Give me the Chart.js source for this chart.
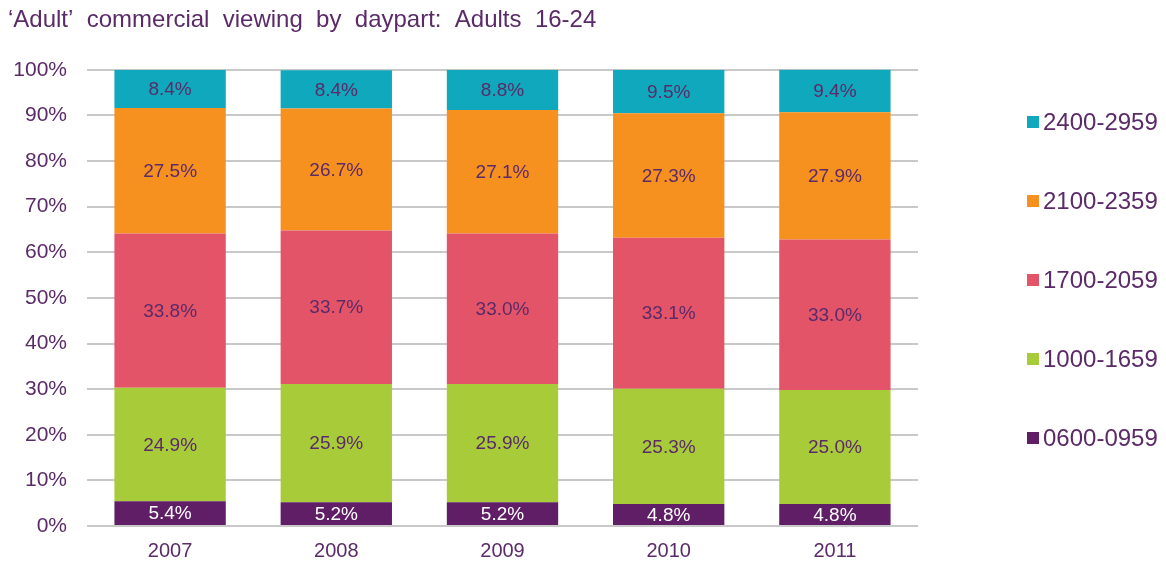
<!DOCTYPE html>
<html>
<head>
<meta charset="utf-8">
<script src="https://cdn.jsdelivr.net/npm/chart.js@4"></script>
<style>
  html, body { margin: 0; padding: 0; background: #ffffff; }
  #wrap { width: 1166px; height: 561px; position: relative; }
</style>
</head>
<body>
<div id="wrap"><canvas id="daypartChart"></canvas></div>
<script>
// Chart data
const years = ['2007', '2008', '2009', '2010', '2011'];
const dayparts = ['0600-0959', '1000-1659', '1700-2059', '2100-2359', '2400-2959'];
const share0600 = [5.4, 5.2, 5.2, 4.8, 4.8];
const share1000 = [24.9, 25.9, 25.9, 25.3, 25.0];
const share1700 = [33.8, 33.7, 33.0, 33.1, 33.0];
const share2100 = [27.5, 26.7, 27.1, 27.3, 27.9];
const share2400 = [8.4, 8.4, 8.8, 9.5, 9.4];
const yTicks = [0, 10, 20, 30, 40, 50, 60, 70, 80, 90, 100];

const textPurple = '#5b2a68';
const fontFamily = 'Arial, "Liberation Sans", sans-serif';

const seriesValues = [share0600, share1000, share1700, share2100, share2400];
const seriesColours = ['#5f1e66', '#a8cb3a', '#e45468', '#f6911f', '#10a8bd'];

// ===============================
// PLUGINS
// ===============================
// Value labels in the middle of each segment
const segmentLabels = {
  id: 'segmentLabels',
  afterDatasetsDraw(chart) {
    const ctx = chart.ctx;
    ctx.save();
    ctx.font = '19px ' + fontFamily;
    ctx.textAlign = 'center';
    ctx.textBaseline = 'middle';
    chart.data.datasets.forEach((ds, i) => {
      const meta = chart.getDatasetMeta(i);
      meta.data.forEach((bar, j) => {
        const mid = (bar.y + bar.base) / 2;
        ctx.fillStyle = i === 0 ? '#ffffff' : textPurple;
        ctx.fillText(ds.data[j].toFixed(1) + '%', bar.x, mid + 1);
      });
    });
    ctx.restore();
  }
};

// Legend on the right, top entry is the last series
const sideLegend = {
  id: 'sideLegend',
  afterDraw(chart) {
    const ctx = chart.ctx;
    const items = chart.data.datasets.slice().reverse();
    ctx.save();
    ctx.font = '24px ' + fontFamily;
    ctx.textBaseline = 'middle';
    ctx.textAlign = 'left';
    items.forEach((ds, k) => {
      const y = 122 + k * 79;
      ctx.fillStyle = ds.backgroundColor;
      ctx.fillRect(1027, y - 6, 12, 12);
      ctx.fillStyle = textPurple;
      ctx.fillText(ds.label, 1043, y + 1);
    });
    ctx.restore();
  }
};

// ===============================
// CHART
// ===============================
const datasets = dayparts.map((label, i) => ({
  label: label,
  data: seriesValues[i],
  backgroundColor: seriesColours[i],
  borderWidth: 0,
  barPercentage: 0.67,
  categoryPercentage: 1.0
}));

new Chart(document.getElementById('daypartChart'), {
  type: 'bar',
  data: { labels: years, datasets: datasets },
  options: {
    responsive: true,
    maintainAspectRatio: false,
    animation: false,
    layout: {
      padding: { left: 8, right: 248, top: 0, bottom: 0 }
    },
    plugins: {
      legend: { display: false },
      tooltip: { enabled: false },
      title: {
        display: true,
        text: '\u2018Adult\u2019  commercial  viewing  by  daypart:  Adults  16-24',
        align: 'start',
        color: textPurple,
        font: { family: fontFamily, size: 24, weight: 'normal', lineHeight: 1.2 },
        padding: { top: 6, bottom: 35 }
      }
    },
    scales: {
      x: {
        stacked: true,
        afterFit(scale) { scale.height = 35; },
        grid: { display: false, drawTicks: false },
        border: { display: false },
        ticks: {
          color: textPurple,
          font: { family: fontFamily, size: 20, lineHeight: 1.2 },
          padding: 13
        }
      },
      y: {
        stacked: true,
        min: 0,
        max: 100,
        afterFit(scale) { scale.width = 79; },
        afterBuildTicks(scale) { scale.ticks = yTicks.map(v => ({ value: v })); },
        grid: { color: '#c9c9c9', lineWidth: 2, drawTicks: false },
        border: { display: false },
        ticks: {
          color: textPurple,
          font: { family: fontFamily, size: 21 },
          padding: 20,
          callback: v => v + '%'
        }
      }
    }
  },
  plugins: [segmentLabels, sideLegend]
});
</script>
</body>
</html>
